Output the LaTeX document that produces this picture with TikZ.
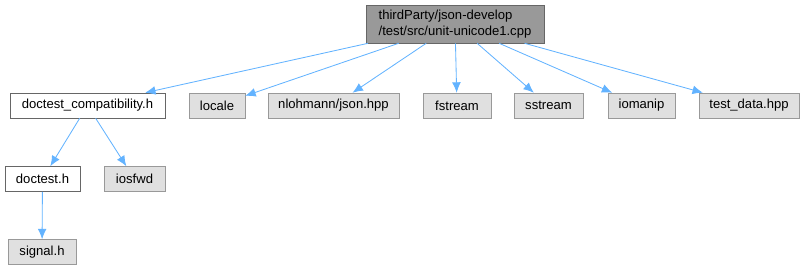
\documentclass[tikz,border=0pt]{standalone}
\usepackage{fontspec}
\setmainfont{Liberation Sans}
\usepackage{xcolor}
\usetikzlibrary{positioning}
\usetikzlibrary{arrows.meta}

\definecolor{edgeblue}{RGB}{99,179,255}
\definecolor{extfill}{RGB}{224,224,224}
\definecolor{extline}{RGB}{153,153,153}
\definecolor{rootfill}{RGB}{153,153,153}
\definecolor{boxline}{RGB}{102,102,102}

\tikzset{
  filebox/.style={draw=boxline, fill=white, minimum height=0.625cm, inner sep=2pt, font=\fontsize{9.3}{11}\selectfont},
  extbox/.style={filebox, draw=extline, fill=extfill},
  rootbox/.style={filebox, fill=rootfill, minimum height=0.95cm, align=left},
  incl/.style={draw=edgeblue, -{Latex[length=2.6mm,width=2.2mm]}, line width=0.6pt}
}

\begin{document}
\begin{tikzpicture}[x=0.025cm, y=-0.025cm]

\useasboundingbox (0,0) rectangle (805,271);

% the file itself
\node[rootbox, minimum width=4.45cm] (unit) at (455,24) {thirdParty/json-develop\\/test/src/unit-unicode1.cpp};

% first level includes
\node[filebox, minimum width=3.875cm] (compat) at (87.5,105.5) {doctest\_compatibility.h};
\node[extbox, minimum width=1.4cm] (locale) at (217,105.5) {locale};
\node[extbox, minimum width=3.275cm] (json) at (333.5,105.5) {nlohmann/json.hpp};
\node[extbox, minimum width=1.7cm] (fstream) at (457,105.5) {fstream};
\node[extbox, minimum width=1.725cm] (sstream) at (548.5,105.5) {sstream};
\node[extbox, minimum width=1.675cm] (iomanip) at (641.5,105.5) {iomanip};
\node[extbox, minimum width=2.5cm] (testdata) at (749,105.5) {test\_data.hpp};

% doctest headers
\node[filebox, minimum width=1.875cm] (doctest) at (42.5,179) {doctest.h};
\node[extbox, minimum width=1.525cm] (iosfwd) at (134.5,179) {iosfwd};
\node[extbox, minimum width=1.7cm] (signal) at (42,252) {signal.h};

\draw[incl] (unit) -- (compat);
\draw[incl] (unit) -- (locale);
\draw[incl] (unit) -- (json);
\draw[incl] (unit) -- (fstream);
\draw[incl] (unit) -- (sstream);
\draw[incl] (unit) -- (iomanip);
\draw[incl] (unit) -- (testdata);

\draw[incl] (compat) -- (doctest);
\draw[incl] (compat) -- (iosfwd);
\draw[incl] (doctest) -- (signal);

\end{tikzpicture}
\end{document}
